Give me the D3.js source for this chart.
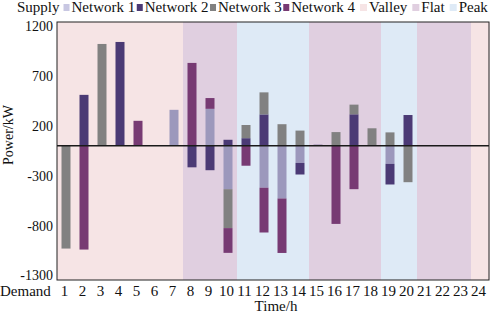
<!DOCTYPE html>
<html>
<head>
<meta charset="utf-8">
<script src="https://cdn.jsdelivr.net/npm/d3@7"></script>
<style>
  body { margin: 0; background: #fff; }
  text { font-family: "Liberation Serif", "Times New Roman", serif; fill: #111; }
</style>
</head>
<body>
<div id="chart"></div>
<script>
// hours on x
var hours = d3.range(1, 25).map(String);
var networks = ["Network 1", "Network 2", "Network 3", "Network 4"];

// power per network per hour (kW)
var net1 = [0, 0, 0, 0, 0, 0, 360, 0, 370, -435, 0, -420, -528, -172, 0, 0, 0, 0, -181, 0, 0, 0, 0, 0];
var net2 = [0, 510, 0, 1040, 0, 0, 0, -216, -245, 60, 76, 314, 0, -116, 10, 0, 315, 0, -207, 308, 0, 0, 0, 0];
var net3 = [-1030, 0, 1020, 0, 0, 0, 0, 0, 0, -390, 132, 221, 216, 152, 0, 137, 97, 175, 134, -365, 0, 0, 0, 0];
var net4 = [0, -1040, 0, 0, 250, 0, 0, 830, 108, -248, -200, -449, -546, 0, 0, -783, -435, 0, 0, 0, 0, 0, 0, 0];

// tariff period per hour
var periods = ["Valley", "Valley", "Valley", "Valley", "Valley", "Valley", "Valley",
  "Flat", "Flat", "Flat", "Peak", "Peak", "Peak", "Peak", "Flat", "Flat", "Flat", "Flat",
  "Peak", "Peak", "Flat", "Flat", "Flat", "Valley"];
var periodNames = ["Valley", "Flat", "Peak"];

var yTicks = [1200, 700, 200, -300, -800, -1300];

var netColors = ["#9c98bc", "#4b3a75", "#818181", "#773a73"];
var periodColors = ["#f6e4e5", "#e0cfe0", "#deeaf6"];

var W = 491, H = 314;
var margin = { left: 57, right: 2, top: 22, bottom: 34 };

var svg = d3.select("#chart").append("svg")
  .attr("width", W)
  .attr("height", H);

var x = d3.scaleBand()
  .domain(hours)
  .range([margin.left, W - margin.right])
  .paddingInner(0)
  .paddingOuter(0);

var y = d3.scaleLinear()
  .domain([-1345, 1240])
  .range([H - margin.bottom, margin.top]);

var color = d3.scaleOrdinal().domain(networks).range(netColors);
var periodColor = d3.scaleOrdinal().domain(periodNames).range(periodColors);

// background periods
svg.append("g").selectAll("rect")
  .data(hours)
  .join("rect")
  .attr("x", function(d){ return x(d); })
  .attr("y", margin.top)
  .attr("width", x.bandwidth() + 0.5)
  .attr("height", y.range()[0] - margin.top)
  .attr("fill", function(d, i){ return periodColor(periods[i]); });

// stacked bars, positive up, negative down
var table = hours.map(function(h, i){
  return { hour: h, "Network 1": net1[i], "Network 2": net2[i], "Network 3": net3[i], "Network 4": net4[i] };
});
var series = d3.stack()
  .keys(networks)
  .offset(d3.stackOffsetDiverging)(table);

var barW = x.bandwidth() * 0.5;
svg.append("g").selectAll("g")
  .data(series)
  .join("g")
  .attr("fill", function(d){ return color(d.key); })
  .selectAll("rect")
  .data(function(d){ return d.filter(function(p){ return p[1] !== p[0]; }); })
  .join("rect")
  .attr("x", function(d){ return x(d.data.hour) + (x.bandwidth() - barW) / 2; })
  .attr("width", barW)
  .attr("y", function(d){ return y(Math.max(d[0], d[1])); })
  .attr("height", function(d){ return Math.max(1, Math.abs(y(d[0]) - y(d[1]))); });

// zero line
svg.append("line")
  .attr("x1", margin.left)
  .attr("x2", W - margin.right)
  .attr("y1", y(0))
  .attr("y2", y(0))
  .attr("stroke", "#1a1a1a")
  .attr("stroke-width", 1.5);

// frame
svg.append("rect")
  .attr("x", margin.left)
  .attr("y", margin.top)
  .attr("width", W - margin.right - margin.left)
  .attr("height", y.range()[0] - margin.top)
  .attr("fill", "none")
  .attr("stroke", "#222")
  .attr("stroke-width", 1);

// y axis (labels only)
var yAxis = svg.append("g")
  .attr("transform", "translate(" + margin.left + ",0)")
  .call(d3.axisLeft(y).tickValues(yTicks).tickSize(0).tickPadding(4)
    .tickFormat(function(d){ return String(d); }));
yAxis.select(".domain").remove();
yAxis.selectAll("text")
  .attr("font-size", 14)
  .style("font-family", "Liberation Serif")
  .style("fill", "#111");

// x axis (labels only)
var xAxis = svg.append("g")
  .attr("transform", "translate(0," + y.range()[0] + ")")
  .call(d3.axisBottom(x).tickSize(0).tickPadding(5));
xAxis.select(".domain").remove();
xAxis.selectAll("text")
  .attr("font-size", 15)
  .attr("dx", -1.5)
  .style("font-family", "Liberation Serif")
  .style("fill", "#111");

svg.append("text")
  .attr("x", 0)
  .attr("y", 296)
  .attr("font-size", 15)
  .text("Demand");

svg.append("text")
  .attr("x", 276)
  .attr("y", 311)
  .attr("text-anchor", "middle")
  .attr("font-size", 15)
  .text("Time/h");

svg.append("text")
  .attr("transform", "translate(13,135) rotate(-90)")
  .attr("text-anchor", "middle")
  .attr("font-size", 14)
  .text("Power/kW");

// legend across the top
var legendItems = networks.map(function(n){ return { name: n, fill: color(n) }; })
  .concat(periodNames.map(function(p){ return { name: p, fill: periodColor(p) }; }));
legendItems[0].fill = "#c8c7e2";

var legend = svg.append("g");
var lx = 17;
var supply = legend.append("text")
  .attr("x", lx)
  .attr("y", 12)
  .attr("font-size", 15)
  .text("Supply");
lx += supply.node().getComputedTextLength() + 4;

legendItems.forEach(function(item, i){
  var isNet = i < 4;
  var sw = isNet ? 6 : 7;
  legend.append("rect")
    .attr("x", lx)
    .attr("y", 4)
    .attr("width", sw)
    .attr("height", 7)
    .attr("fill", item.fill);
  var t = legend.append("text")
    .attr("x", lx + sw + 2)
    .attr("y", 12)
    .attr("font-size", 15)
    .text(item.name);
  lx += sw + 2 + t.node().getComputedTextLength() + (i < 3 ? 1.5 : 5);
});
</script>
</body>
</html>
